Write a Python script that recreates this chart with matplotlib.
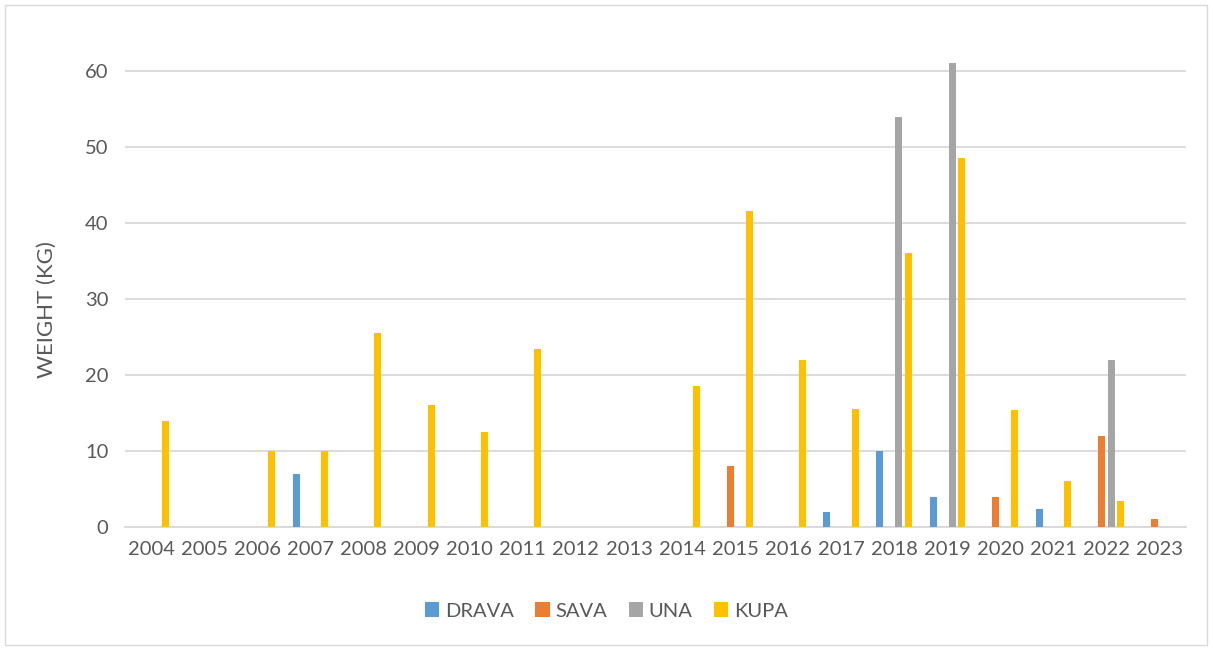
import matplotlib
matplotlib.use("Agg")
import matplotlib.pyplot as plt
from matplotlib.patches import Patch, Rectangle
import numpy as np

plt.rcParams['font.family'] = ['Lato', 'DejaVu Sans']

years = [str(y) for y in range(2004, 2024)]
drava = [0, 0, 0, 7, 0, 0, 0, 0, 0, 0, 0, 0, 0, 2, 10, 4, 0, 2.4, 0, 0]
sava  = [0, 0, 0, 0, 0, 0, 0, 0, 0, 0, 0, 8, 0, 0, 0, 0, 4, 0, 12, 1]
una   = [0, 0, 0, 0, 0, 0, 0, 0, 0, 0, 0, 0, 0, 0, 54, 61, 0, 0, 22, 0]
kupa  = [14, 0, 10, 10, 25.5, 16, 12.5, 23.4, 0, 0, 18.6, 41.6, 22, 15.5, 36.1, 48.6, 15.4, 6, 3.4, 0]

series = [("DRAVA", drava, "#5B9BD5"),
          ("SAVA", sava, "#ED7D31"),
          ("UNA", una, "#A5A5A5"),
          ("KUPA", kupa, "#FFC000")]

W, H = 1213, 649
fig = plt.figure(figsize=(W / 100, H / 100), dpi=100)

# outer chart border
fig.patches.append(Rectangle((5 / W, 4 / H), 1202 / W, 640 / H, transform=fig.transFigure,
                             fill=False, edgecolor="#D9D9D9", linewidth=1.0))

left, right, bottom, top = 125, 1186, 527, 20
ax = fig.add_axes([left / W, 1 - bottom / H, (right - left) / W, (bottom - top) / H])

x = np.arange(len(years))
step = 0.179
width = 0.132
for i, (name, vals, color) in enumerate(series):
    ax.bar(x + (i - 1.5) * step, vals, width=width, color=color, label=name, zorder=3)

ymax = (bottom - top) / 7.6
ax.set_ylim(0, ymax)
ax.set_xlim(-0.5, len(years) - 0.5)
ax.set_yticks(range(0, 61, 10))
ax.set_xticks(x)
ax.set_xticklabels(years)

ax.grid(axis="y", color="#D9D9D9", linewidth=1.3, zorder=0)
for s in ["top", "right", "left"]:
    ax.spines[s].set_visible(False)
ax.spines["bottom"].set_color("#D9D9D9")
ax.spines["bottom"].set_linewidth(1.3)
ax.tick_params(axis="both", length=0, labelsize=14.5, colors="#595959")
ax.tick_params(axis="x", pad=10)
ax.tick_params(axis="y", pad=12)
ax.set_ylabel("WEIGHT (KG)", fontsize=16, color="#595959")
ax.yaxis.set_label_coords((57 - left) / (right - left), (bottom - 310) / (bottom - top))

handles = [Patch(facecolor=c, edgecolor="none") for _, _, c in series]
fig.legend(handles, [n for n, _, _ in series], loc="center", ncol=4,
           bbox_to_anchor=(0.5, 1 - 611 / H), frameon=False, fontsize=14.5,
           handlelength=0.7, handleheight=0.7, handletextpad=0.3, columnspacing=1.05,
           labelcolor="#595959")

fig.savefig("out.png", dpi=100)
